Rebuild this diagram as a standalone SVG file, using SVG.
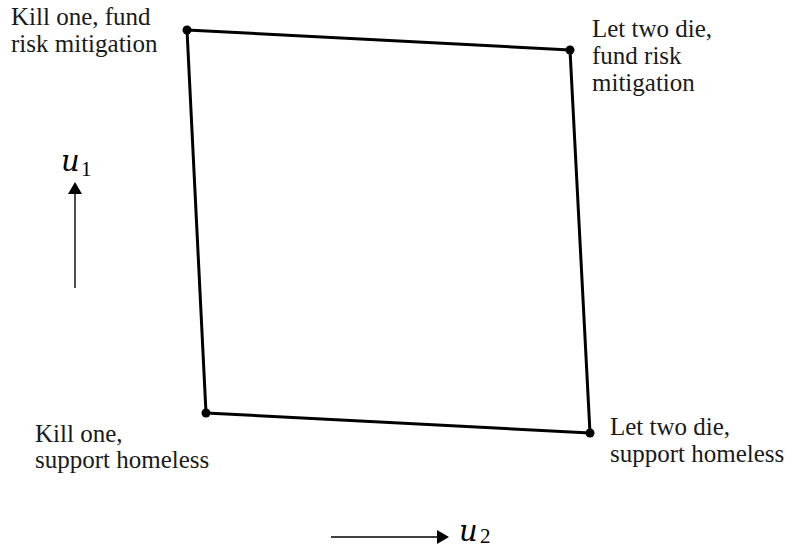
<svg xmlns="http://www.w3.org/2000/svg" width="785" height="548" viewBox="0 0 785 548">
<defs>
<style>
.lbl{font-family:"Liberation Serif","Times New Roman",serif;font-size:25px;fill:#1a1a1a}
.math{font-family:"DejaVu Serif","Liberation Serif",serif;font-style:italic;font-size:29px;fill:#000}
.sub{font-family:"Liberation Serif","Times New Roman",serif;font-size:21px;fill:#000}
.edge{stroke:#000;stroke-width:3;fill:none;stroke-linecap:round}
.axis{stroke:#000;stroke-width:1.4;fill:none}
.dot{fill:#000}
</style>
<marker id="ah" viewBox="0 0 12 14" refX="0" refY="7" markerWidth="12" markerHeight="14" markerUnits="userSpaceOnUse" orient="auto">
<path d="M0,0 L12,7 L0,14 Z" fill="#000"/>
</marker>
</defs>
<rect width="785" height="548" fill="#fff"/>
<g id="connectors">
<path class="edge" d="M187,30 L570,50"/>
<path class="edge" d="M570,50 L590,433"/>
<path class="edge" d="M590,433 L206,413"/>
<path class="edge" d="M206,413 L187,30"/>
<line class="axis" x1="75" y1="288" x2="75" y2="194" marker-end="url(#ah)"/>
<line class="axis" x1="331" y1="537" x2="437" y2="537" marker-end="url(#ah)"/>
</g>
<g id="node-kill-fund">
<circle class="dot" cx="187" cy="30" r="4.5"/>
<text class="lbl" x="11" y="25">Kill one, fund</text>
<text class="lbl" x="11" y="52">risk mitigation</text>
</g>
<g id="node-let-fund">
<circle class="dot" cx="570" cy="50" r="4.5"/>
<text class="lbl" x="592" y="37">Let two die,</text>
<text class="lbl" x="592" y="64">fund risk</text>
<text class="lbl" x="592" y="91">mitigation</text>
</g>
<g id="node-kill-support">
<circle class="dot" cx="206" cy="413" r="4.5"/>
<text class="lbl" x="35" y="442">Kill one,</text>
<text class="lbl" x="35" y="468">support homeless</text>
</g>
<g id="node-let-support">
<circle class="dot" cx="590" cy="433" r="4.5"/>
<text class="lbl" x="610" y="435">Let two die,</text>
<text class="lbl" x="610" y="462">support homeless</text>
</g>
<g id="axis-u1">
<text class="math" x="61" y="171">u</text>
<text class="sub" x="81" y="176">1</text>
</g>
<g id="axis-u2">
<text class="math" x="459" y="541">u</text>
<text class="sub" x="480" y="543">2</text>
</g>
</svg>
